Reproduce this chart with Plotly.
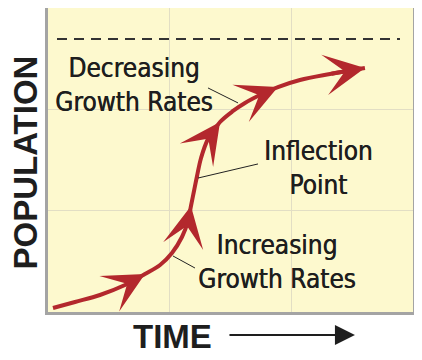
import plotly.graph_objects as go

# Logistic growth curve (time, population)
time = [0.041, 0.222, 0.427, 0.633, 0.797, 0.921, 1.019, 1.101, 1.151, 1.175, 1.200,
        1.225, 1.258, 1.315, 1.414, 1.521, 1.619, 1.759, 1.890, 2.071, 2.318, 2.605]
population = [0.039, 0.099, 0.168, 0.266, 0.375, 0.464, 0.582, 0.740, 0.898, 1.046, 1.194,
              1.342, 1.520, 1.707, 1.875, 1.984, 2.063, 2.151, 2.220, 2.290, 2.349, 2.408]
arrow_idx = [4, 9, 14, 18, 21]          # points on the curve carrying arrowheads
carrying_capacity = 2.694
dash_x = [0.074, 2.893]

labels = ["Decreasing<br>Growth Rates", "Inflection<br>Point", "Increasing<br>Growth Rates"]
label_pos = [(0.236, 0.747), (0.740, 0.474), (0.627, 0.164)]
leaders = [((1.315, 2.211), (1.562, 2.063)),
           ((1.233, 1.322), (1.726, 1.461)),
           ((1.027, 0.553), (1.208, 0.434))]

RED = "#B3282D"
TXT = "#1E1E1E"
LABEL_FONT = "Liberation Sans Narrow, DejaVu Sans Condensed, Arial Narrow, sans-serif"
TITLE_FONT = "Liberation Sans, Arial, sans-serif"

fig = go.Figure()
fig.add_trace(go.Scatter(x=time, y=population, mode="lines",
                         line=dict(color=RED, width=4, shape="spline", smoothing=1),
                         hoverinfo="skip", showlegend=False))

ann = []
for i in arrow_idx:
    ann.append(dict(x=time[i], y=population[i], ax=time[i - 1], ay=population[i - 1],
                    xref="x", yref="y", axref="x", ayref="y", text="", showarrow=True,
                    arrowhead=3, arrowsize=1.7, arrowwidth=4, arrowcolor=RED, standoff=0))

for t, (px, py) in zip(labels, label_pos):
    ann.append(dict(x=px, y=py, xref="paper", yref="paper", text=t, showarrow=False,
                    xanchor="center", yanchor="middle", align="center",
                    font=dict(family=LABEL_FONT, size=26, color=TXT,
                              shadow="0.5px 0 0 #1E1E1E")))

ann.append(dict(x=-0.062, y=0.493, xref="paper", yref="paper", text="POPULATION",
                textangle=-90, showarrow=False, xanchor="center", yanchor="middle",
                font=dict(family=TITLE_FONT, size=33, color=TXT, weight="bold")))
ann.append(dict(x=0.342, y=-0.079, xref="paper", yref="paper", text="TIME",
                showarrow=False, xanchor="center", yanchor="middle",
                font=dict(family=TITLE_FONT, size=33, color=TXT, weight="bold")))
ann.append(dict(x=0.841, y=-0.076, xref="paper", yref="paper", text="", showarrow=True,
                ax=-127, ay=0, arrowhead=2, arrowsize=2, arrowwidth=2,
                arrowcolor=TXT, standoff=0))

shapes = [dict(type="line", xref="x", yref="y", x0=dash_x[0], x1=dash_x[1],
               y0=carrying_capacity, y1=carrying_capacity,
               line=dict(color="#333333", width=2, dash="10px,7px"))]
for (a, b) in leaders:
    shapes.append(dict(type="line", xref="x", yref="y", x0=a[0], y0=a[1], x1=b[0], y1=b[1],
                       line=dict(color="#222222", width=1)))

# the page body adds an 8px offset, so margins are reduced on the left/top
fig.update_layout(
    width=422, height=360,
    margin=dict(l=40, r=17, t=0, b=56, autoexpand=False),
    paper_bgcolor="white", plot_bgcolor="#FDF9CE",
    annotations=ann, shapes=shapes, showlegend=False,
)
axis_common = dict(range=[0, 3], tickvals=[1, 2], showticklabels=False, ticks="",
                   showgrid=True, gridcolor="#E2DEC4", gridwidth=1, zeroline=False,
                   showline=True, linecolor="#A4A4A4", linewidth=3, mirror=True,
                   fixedrange=True, automargin=False)
fig.update_xaxes(**axis_common)
fig.update_yaxes(**axis_common)

fig.write_html("out.html")
